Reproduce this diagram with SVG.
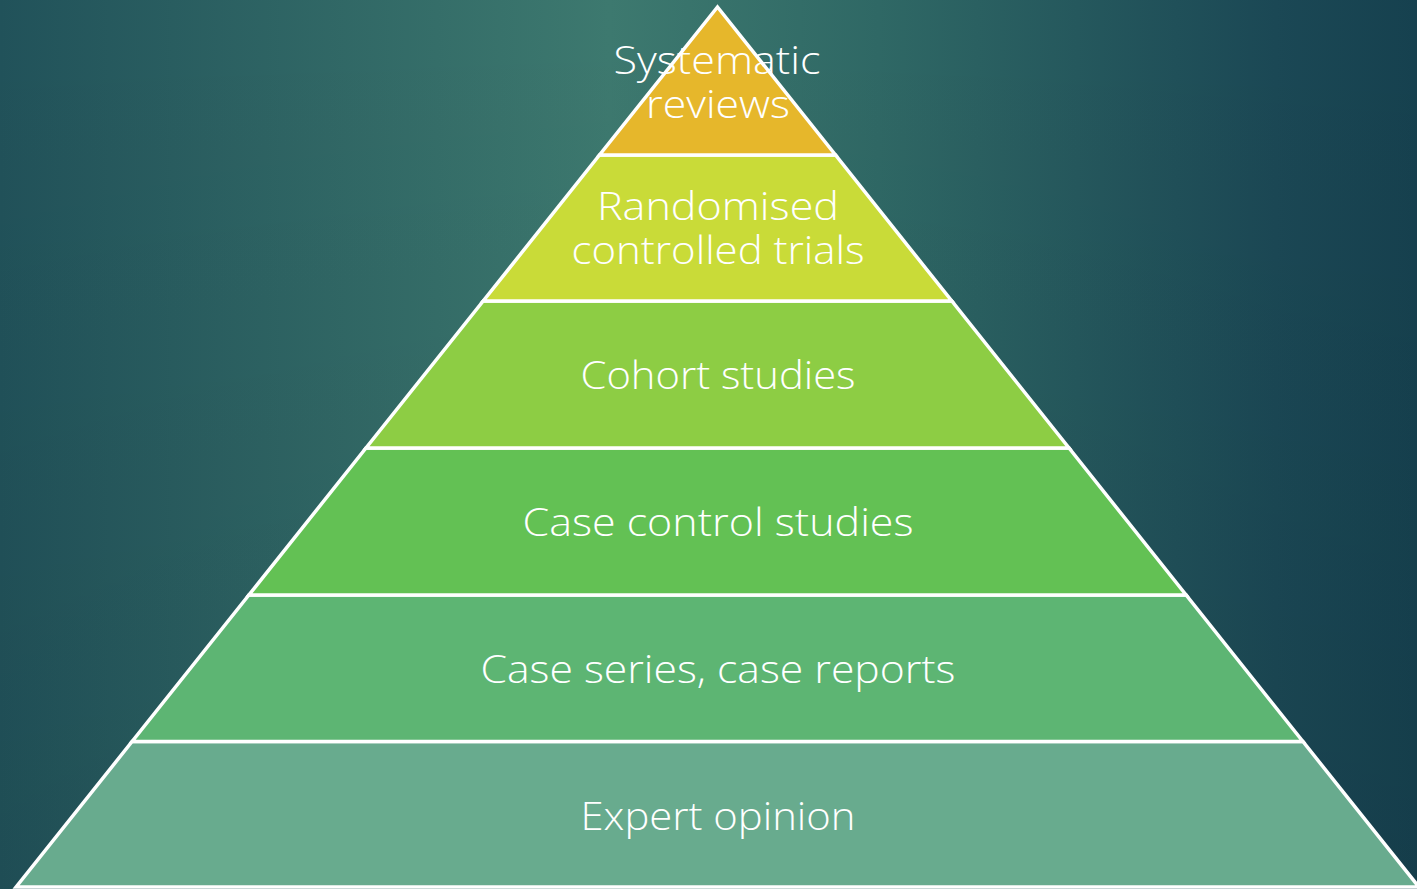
<svg xmlns="http://www.w3.org/2000/svg" width="1417" height="889" viewBox="0 0 1417 889">
  <defs>
    <linearGradient id="bg" gradientUnits="userSpaceOnUse" x1="0" y1="0" x2="1417" y2="0">
      <stop offset="0" stop-color="#21525A"/>
      <stop offset="0.43" stop-color="#3D796F"/>
      <stop offset="0.62" stop-color="#2F6865"/>
      <stop offset="0.9" stop-color="#1B4855"/>
      <stop offset="1" stop-color="#16414F"/>
    </linearGradient>
    <linearGradient id="shade" gradientUnits="userSpaceOnUse" x1="0" y1="0" x2="0" y2="889">
      <stop offset="0" stop-color="#000000" stop-opacity="0"/>
      <stop offset="1" stop-color="#000000" stop-opacity="0.06"/>
    </linearGradient>
    <style>
      .layer { stroke: #FFFFFF; stroke-width: 3.5; stroke-linejoin: miter; }
      .lbl { font-family: "Open Sans", "Liberation Sans", sans-serif; font-weight: 300; font-size: 38px; fill: #FFFFFF; text-anchor: middle; }
    </style>
  </defs>
  <rect x="0" y="0" width="1417" height="889" fill="url(#bg)"/>
  <rect x="0" y="0" width="1417" height="889" fill="url(#shade)"/>

  <g id="layer-expert-opinion">
    <polygon class="layer" fill="#68AB8E" points="132.1,741.5 1302.9,741.5 1418.9,887 16.1,887"/>
    <text class="lbl" x="718" y="830" textLength="275" lengthAdjust="spacingAndGlyphs">Expert opinion</text>
  </g>
  <g id="layer-case-series">
    <polygon class="layer" fill="#5DB573" points="248.9,595 1186.1,595 1302.9,741.5 132.1,741.5"/>
    <text class="lbl" x="718" y="683" textLength="475" lengthAdjust="spacingAndGlyphs">Case series, case reports</text>
  </g>
  <g id="layer-case-control">
    <polygon class="layer" fill="#63C154" points="366,448 1069,448 1186.1,595 248.9,595"/>
    <text class="lbl" x="718" y="536" textLength="391" lengthAdjust="spacingAndGlyphs">Case control studies</text>
  </g>
  <g id="layer-cohort">
    <polygon class="layer" fill="#8DCD44" points="483.2,301 951.8,301 1069,448 366,448"/>
    <text class="lbl" x="718" y="389" textLength="275" lengthAdjust="spacingAndGlyphs">Cohort studies</text>
  </g>
  <g id="layer-rct">
    <polygon class="layer" fill="#C9DB38" points="599.5,155 835.5,155 951.8,301 483.2,301"/>
    <text class="lbl" x="718" y="220" textLength="242" lengthAdjust="spacingAndGlyphs">Randomised</text>
    <text class="lbl" x="718" y="264" textLength="293" lengthAdjust="spacingAndGlyphs">controlled trials</text>
  </g>
  <g id="layer-systematic-reviews">
    <polygon class="layer" fill="#E6B72B" points="717.5,7 835.5,155 599.5,155"/>
    <text class="lbl" x="717" y="74" textLength="207" lengthAdjust="spacingAndGlyphs">Systematic</text>
    <text class="lbl" x="718" y="118" textLength="144" lengthAdjust="spacingAndGlyphs">reviews</text>
  </g>
</svg>
